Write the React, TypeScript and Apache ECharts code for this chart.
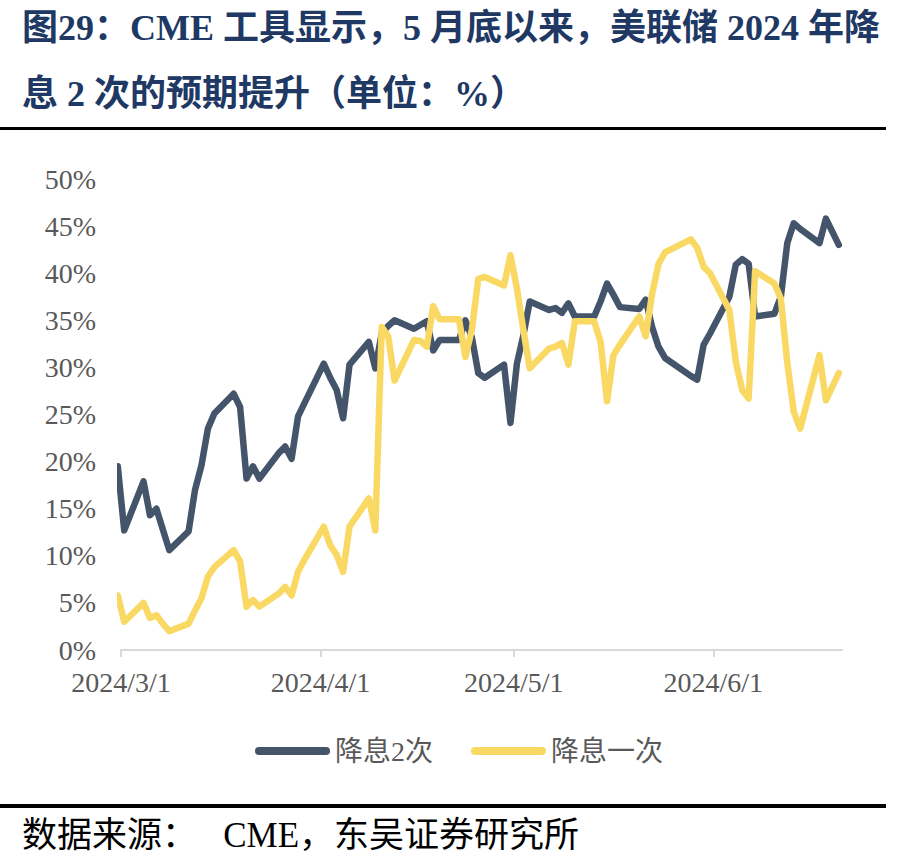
import React, { useEffect, useRef } from "react";
import * as echarts from "echarts";

// Trading days
const tradeDates: string[] = [
  "2024-02-29", "2024-03-01",
  "2024-03-04", "2024-03-05", "2024-03-06", "2024-03-07", "2024-03-08",
  "2024-03-11", "2024-03-12", "2024-03-13", "2024-03-14", "2024-03-15",
  "2024-03-18", "2024-03-19", "2024-03-20", "2024-03-21", "2024-03-22",
  "2024-03-25", "2024-03-26", "2024-03-27", "2024-03-28", "2024-03-29",
  "2024-04-01", "2024-04-02", "2024-04-03", "2024-04-04", "2024-04-05",
  "2024-04-08", "2024-04-09", "2024-04-10", "2024-04-11", "2024-04-12",
  "2024-04-15", "2024-04-16", "2024-04-17", "2024-04-18", "2024-04-19",
  "2024-04-22", "2024-04-23", "2024-04-24", "2024-04-25", "2024-04-26",
  "2024-04-29", "2024-04-30", "2024-05-01", "2024-05-02", "2024-05-03",
  "2024-05-06", "2024-05-07", "2024-05-08", "2024-05-09", "2024-05-10",
  "2024-05-13", "2024-05-14", "2024-05-15", "2024-05-16", "2024-05-17",
  "2024-05-20", "2024-05-21", "2024-05-22", "2024-05-23", "2024-05-24",
  "2024-05-28", "2024-05-29", "2024-05-30", "2024-05-31",
  "2024-06-03", "2024-06-04", "2024-06-05", "2024-06-06", "2024-06-07",
  "2024-06-10", "2024-06-11", "2024-06-12", "2024-06-13", "2024-06-14",
  "2024-06-17", "2024-06-18", "2024-06-20",
];

// 降息2次 (%)
const cutTwice: number[] = [
  19.5, 12.7,
  17.9, 14.3, 15.0, 12.8, 10.6,
  12.6, 17.0, 19.6, 23.5, 25.1,
  27.2, 25.8, 18.2, 19.5, 18.2,
  20.9, 21.6, 20.3, 24.8, 26.2,
  30.4, 28.9, 27.6, 24.6, 30.3,
  32.7, 29.9, 33.6, 34.4, 35.0,
  34.1, 34.5, 34.9, 31.8, 32.9,
  32.9, 35.0, 33.2, 29.4, 28.9,
  30.3, 24.1, 30.4, 33.4, 37.0,
  36.1, 36.3, 35.8, 36.8, 35.4,
  35.4, 37.0, 38.9, 37.7, 36.4,
  36.2, 37.2, 34.3, 32.2, 31.0,
  29.1, 28.7, 32.4, 33.6,
  37.5, 40.9, 41.5, 41.0, 35.4,
  35.7, 37.5, 43.2, 45.3, 44.7,
  43.2, 45.8, 43.0,
];

// 降息一次 (%)
const cutOnce: number[] = [
  5.8, 3.0,
  5.0, 3.4, 3.7, 2.8, 2.0,
  2.8, 4.2, 5.5, 7.8, 8.8,
  10.6, 9.4, 4.6, 5.3, 4.6,
  6.0, 6.7, 5.8, 8.3, 9.6,
  13.1, 11.1, 10.1, 8.3, 13.1,
  16.1, 12.7, 34.3, 33.3, 28.6,
  32.9, 32.8, 32.2, 36.5, 35.1,
  35.1, 31.1, 34.0, 39.4, 39.6,
  38.7, 41.9, 38.4, 34.0, 29.9,
  32.0, 32.2, 32.6, 30.3, 34.9,
  34.9, 32.7, 26.4, 31.3, 32.4,
  35.4, 33.3, 37.8, 41.0, 42.2,
  43.6, 42.7, 40.7, 40.0,
  36.1, 30.6, 27.6, 26.7, 40.2,
  38.9, 37.3, 30.5, 25.3, 23.5,
  31.3, 26.5, 29.4,
];

const seriesNames: string[] = ["降息2次", "降息一次"];
const monthTicks: string[] = ["2024-03-01", "2024-04-01", "2024-05-01", "2024-06-01"];
const axisStart = "2024-03-01";
const axisEnd = "2024-06-21";
const titleLines: string[] = [
  "图29：CME 工具显示，5 月底以来，美联储 2024 年降",
  "息 2 次的预期提升（单位：%）",
];
const sourceText = "数据来源：   CME，东吴证券研究所";

const COLOR_DARK = "#44546A";
const COLOR_YELLOW = "#F9D964";
const LABEL_FONT = "'Liberation Serif', 'Times New Roman', 'Noto Sans CJK SC', serif";

const dayStart = (s: string): number => {
  const [y, m, d] = s.split("-").map(Number);
  return new Date(y, m - 1, d).getTime();
};
// Excel date axis "between tick marks": each day's point sits mid-day
const midDay = (s: string): number => dayStart(s) + 12 * 3600 * 1000;

const capsule = "path://M4,0 L71,0 A4,4 0 0 1 71,8 L4,8 A4,4 0 0 1 4,0 Z";

export default function App() {
  const ref = useRef<HTMLDivElement>(null);

  useEffect(() => {
    if (!ref.current) return;
    const chart = echarts.init(ref.current, undefined, { renderer: "svg" });
    const tickVals = monthTicks.map(dayStart);

    const option: any = {
      animation: false,
      backgroundColor: "#ffffff",
      grid: { left: 121, right: 78, top: 179, bottom: 216, containLabel: false },
      xAxis: {
        type: "value",
        min: dayStart(axisStart),
        max: dayStart(axisEnd),
        axisLine: { show: true, lineStyle: { color: "#D9D9D9", width: 2 } },
        axisTick: { show: true, length: 7, lineStyle: { color: "#D9D9D9", width: 2 }, customValues: tickVals },
        axisLabel: {
          customValues: tickVals,
          color: "#595959",
          fontSize: 28,
          fontFamily: LABEL_FONT,
          margin: 18,
          formatter: (v: number) => {
            const d = new Date(v);
            return `${d.getFullYear()}/${d.getMonth() + 1}/${d.getDate()}`;
          },
        },
        splitLine: { show: false },
      },
      yAxis: {
        type: "value",
        min: 0,
        max: 50,
        interval: 5,
        axisLine: { show: false },
        axisTick: { show: false },
        splitLine: { show: false },
        axisLabel: { formatter: "{value}%", color: "#595959", fontSize: 28, fontFamily: LABEL_FONT, margin: 25 },
      },
      legend: {
        left: 250,
        top: 732,
        itemWidth: 75,
        itemHeight: 8,
        itemGap: 38,
        data: seriesNames.map((n) => ({ name: n, icon: capsule })),
        textStyle: { color: "#595959", fontSize: 28, fontFamily: LABEL_FONT },
      },
      series: [
        {
          name: seriesNames[0],
          type: "line",
          symbol: "none",
          showSymbol: false,
          color: COLOR_DARK,
          lineStyle: { width: 6.5, color: COLOR_DARK, cap: "round", join: "round" },
          data: tradeDates.map((d, i) => [midDay(d), cutTwice[i]]),
        },
        {
          name: seriesNames[1],
          type: "line",
          symbol: "none",
          showSymbol: false,
          color: COLOR_YELLOW,
          lineStyle: { width: 6.5, color: COLOR_YELLOW, cap: "round", join: "round" },
          data: tradeDates.map((d, i) => [midDay(d), cutOnce[i]]),
        },
      ],
      graphic: [
        {
          type: "text",
          left: 22,
          top: 10,
          style: {
            text: titleLines[0],
            fill: "#203864",
            font: "bold 36px 'Liberation Serif', 'Noto Sans CJK SC', serif",
          },
        },
        {
          type: "text",
          left: 22,
          top: 76,
          style: {
            text: titleLines[1],
            fill: "#203864",
            font: "bold 36px 'Liberation Serif', 'Noto Sans CJK SC', serif",
          },
        },
        { type: "rect", shape: { x: 0, y: 127, width: 886, height: 3 }, style: { fill: "#000000" } },
        { type: "rect", shape: { x: 0, y: 804, width: 886, height: 4 }, style: { fill: "#000000" } },
        {
          type: "text",
          left: 22,
          top: 818,
          style: {
            text: sourceText,
            fill: "#000000",
            font: "35px 'Liberation Serif', 'Noto Sans CJK SC', serif",
          },
        },
      ],
    };

    chart.setOption(option);
    return () => chart.dispose();
  }, []);

  return (
    <div
      ref={ref}
      style={{ position: "absolute", left: 0, top: 0, width: 920, height: 866 }}
    />
  );
}
